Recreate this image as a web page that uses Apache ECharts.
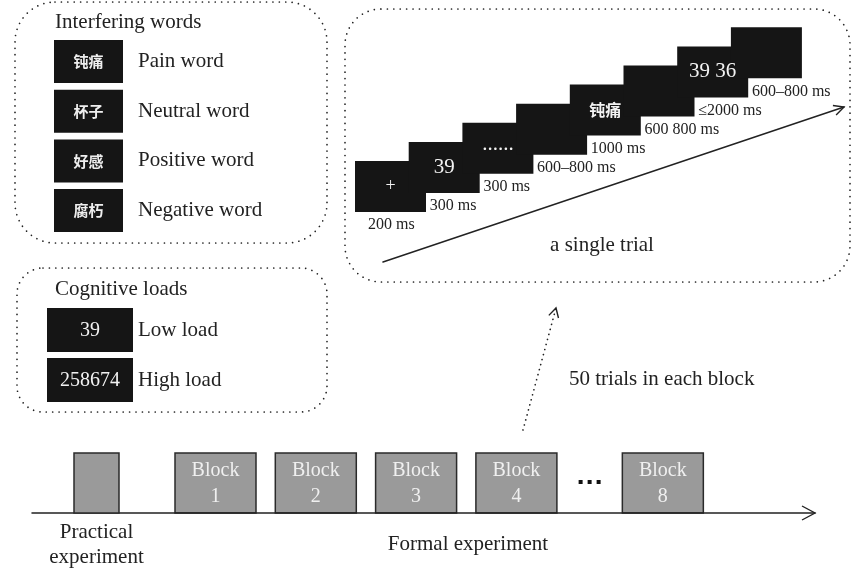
<!DOCTYPE html>
<html lang="en">
<head>
<meta charset="UTF-8">
<title>Experimental procedure</title>
<script src="https://cdn.jsdelivr.net/npm/echarts@6/dist/echarts.min.js"></script>
<style>
    html, body { margin: 0; padding: 0; background: #fff; }
    #main { width: 852px; height: 574px; }
</style>
</head>
<body>
<div id="main"></div>
<script>
    // what the figure says
    var frameTitles = ['Interfering words', 'Cognitive loads', 'a single trial'];
    var wordSamples = ['钝痛', '杯子', '好感', '腐朽'];
    var wordTypes = ['Pain word', 'Neutral word', 'Positive word', 'Negative word'];
    var loadSamples = ['39', '258674'];
    var loadTypes = ['Low load', 'High load'];
    var trialScreens = ['+', '39', '......', '', '钝痛', '', '39 36', ''];
    var trialDurations = ['200 ms', '300 ms', '300 ms', '600–800 ms', '1000 ms', '600 800 ms', '≤2000 ms', '600–800 ms'];
    var blockNumbers = [1, 2, 3, 4, 8];
    var trialsPerBlock = 50;

    // look
    var SERIF = '"Liberation Serif", "Times New Roman", serif';
    var CJK = '"Noto Sans CJK SC", sans-serif';
    var INK = '#222';
    var SCREEN = '#151515';
    var GRAY = '#9a9a9a';

    // layout, in page units of the hidden axes
    var frames = [
        {x: 15, y: 2, w: 312, h: 241, r: 40, tx: 55, ty: 22, align: 'left'},
        {x: 17, y: 268, w: 310, h: 144, r: 26, tx: 55, ty: 289, align: 'left'},
        {x: 345, y: 9, w: 505, h: 273, r: 36, tx: 602, ty: 245, align: 'center'}
    ];
    var word = {x: 54, y: 40, w: 69, h: 43, step: 49.7, labelX: 138};
    var load = {x: 47, y: 308, w: 86, h: 44, step: 50, labelX: 138};
    var trial = {x: 355, y: 161, w: 71, h: 51, dx: 53.7, dy: -19.1};
    var line = {x0: 32, x1: 815, y: 513, boxTop: 453, practX: 74, practW: 45,
                blockX: 175, blockW: 81, step: 100.3, skip: 0.46};

    function txt(x, y, s, font, fill, align, valign) {
        return {type: 'text', x: x, y: y, style: {
            text: s, font: font, fill: fill || INK,
            textAlign: align || 'left', textVerticalAlign: valign || 'middle'
        }};
    }

    function head(tip, from, len, half) {
        var dx = tip[0] - from[0], dy = tip[1] - from[1];
        var d = Math.sqrt(dx * dx + dy * dy);
        var ux = dx / d, uy = dy / d;
        var bx = tip[0] - ux * len, by = tip[1] - uy * len;
        return [[bx - uy * half, by + ux * half], tip, [bx + uy * half, by - ux * half]];
    }

    function arrow(api, a, b, dotted, len, half) {
        var p = api.coord(a), q = api.coord(b);
        return [
            {type: 'line', shape: {x1: p[0], y1: p[1], x2: q[0], y2: q[1]},
             style: {stroke: INK, lineWidth: dotted ? 1.7 : 1.5, lineDash: dotted ? [0.01, 5.2] : null, lineCap: 'round'}},
            {type: 'polyline', shape: {points: head(q, p, len, half)},
             style: {stroke: INK, lineWidth: 1.4, fill: null}}
        ];
    }

    function box(api, x, y, w, h) {
        var p = api.coord([x, y]), q = api.coord([x + w, y + h]);
        return {x: p[0], y: p[1], width: q[0] - p[0], height: q[1] - p[1]};
    }

    function renderFrame(params, api) {
        var f = frames[params.dataIndex];
        var s = box(api, f.x, f.y, f.w, f.h);
        s.r = f.r;
        var t = api.coord([f.tx, f.ty]);
        return {type: 'group', children: [
            {type: 'rect', shape: s, style: {fill: null, stroke: '#222', lineWidth: 1.7, lineDash: [0.01, 6.4], lineCap: 'round'}},
            txt(t[0], t[1], frameTitles[params.dataIndex], '21px ' + SERIF, INK, f.align)
        ]};
    }

    function renderWord(params, api) {
        var i = params.dataIndex;
        var y = word.y + i * word.step;
        var s = box(api, word.x, y, word.w, word.h);
        var c = api.coord([word.x + word.w / 2, y + word.h / 2]);
        var l = api.coord([word.labelX, y + word.h / 2]);
        return {type: 'group', children: [
            {type: 'rect', shape: s, style: {fill: SCREEN}},
            txt(c[0], c[1], wordSamples[i], 'bold 15px ' + CJK, '#eee', 'center'),
            txt(l[0], l[1], wordTypes[i], '21px ' + SERIF)
        ]};
    }

    function renderLoad(params, api) {
        var i = params.dataIndex;
        var y = load.y + i * load.step;
        var s = box(api, load.x, y, load.w, load.h);
        var c = api.coord([load.x + load.w / 2, y + load.h / 2]);
        var l = api.coord([load.labelX, y + load.h / 2]);
        return {type: 'group', children: [
            {type: 'rect', shape: s, style: {fill: SCREEN}},
            txt(c[0], c[1] + 1, loadSamples[i], '20px ' + SERIF, '#f2f2f2', 'center'),
            txt(l[0], l[1], loadTypes[i], '21px ' + SERIF)
        ]};
    }

    function trialPos(i) {
        return [trial.x + i * trial.dx, trial.y + i * trial.dy];
    }

    // screens first, their texts in a later series so nothing gets covered
    function renderScreen(params, api) {
        var p = trialPos(params.dataIndex);
        return {type: 'rect', shape: box(api, p[0], p[1], trial.w, trial.h), style: {fill: SCREEN}};
    }

    function renderTrialText(params, api) {
        var i = params.dataIndex;
        var p = trialPos(i);
        var c = api.coord([p[0] + trial.w / 2, p[1] + trial.h / 2]);
        var l = api.coord([p[0] + (i ? 21 : 13), p[1] + trial.h + 13]);
        var kids = [];
        var t = trialScreens[i];
        if (t) {
            var font = /[\u4e00-\u9fff]/.test(t) ? 'bold 16px ' + CJK
                : (t === '+' ? '18px ' : '21px ') + SERIF;
            kids.push(txt(c[0], c[1] + (t === '......' ? -4 : 0), t, font, '#f2f2f2', 'center'));
        }
        kids.push(txt(l[0], l[1], trialDurations[i], '16px ' + SERIF));
        return {type: 'group', children: kids};
    }

    function blockLeft(i) {
        return line.blockX + (i + (i >= 4 ? line.skip : 0)) * line.step;
    }

    function renderBlock(params, api) {
        var i = params.dataIndex;
        var x = blockLeft(i);
        var s = box(api, x, line.boxTop, line.blockW, line.y - line.boxTop);
        var c = api.coord([x + line.blockW / 2, line.boxTop + 18]);
        var n = api.coord([x + line.blockW / 2, line.boxTop + 44]);
        return {type: 'group', children: [
            {type: 'rect', shape: s, style: {fill: GRAY, stroke: '#2a2a2a', lineWidth: 1.5}},
            txt(c[0], c[1], 'Block', '20px ' + SERIF, '#f0f0f0', 'center'),
            txt(n[0], n[1], String(blockNumbers[i]), '20px ' + SERIF, '#f0f0f0', 'center')
        ]};
    }

    function renderStatic(params, api) {
        var kids = [];
        // time line of the session
        kids = kids.concat(arrow(api, [line.x0, line.y], [line.x1, line.y], false, 13, 7));
        var ps = box(api, line.practX, line.boxTop, line.practW, line.y - line.boxTop);
        kids.push({type: 'rect', shape: ps, style: {fill: GRAY, stroke: '#2a2a2a', lineWidth: 1.5}});
        var gapMid = (blockLeft(3) + line.blockW + blockLeft(4)) / 2;
        for (var k = -1; k <= 1; k++) {
            kids.push({type: 'rect', shape: box(api, gapMid - 2 + k * 9, 480, 4, 4), style: {fill: '#111'}});
        }
        var pr = api.coord([line.practX + line.practW / 2, 544.5]);
        kids.push({type: 'text', x: pr[0], y: pr[1], style: {
            text: 'Practical\nexperiment', font: '21px ' + SERIF, fill: INK,
            textAlign: 'center', textVerticalAlign: 'middle', lineHeight: 25}});
        var fe = api.coord([468, 544]);
        kids.push(txt(fe[0], fe[1], 'Formal experiment', '21px ' + SERIF, INK, 'center'));
        // trial arrow and the link up from the blocks
        kids = kids.concat(arrow(api, [383, 262], [844, 107], false, 10, 5));
        kids = kids.concat(arrow(api, [523, 430], [556, 308], true, 9, 5));
        var tb = api.coord([569, 379]);
        kids.push(txt(tb[0], tb[1], trialsPerBlock + ' trials in each block', '21px ' + SERIF));
        return {type: 'group', children: kids};
    }

    function idx(arr) {
        return arr.map(function (v, i) { return [i, 0]; });
    }

    var chart = echarts.init(document.getElementById('main'));
    chart.setOption({
        animation: false,
        backgroundColor: '#fff',
        grid: {left: 0, right: 0, top: 0, bottom: 0},
        xAxis: {type: 'value', min: 0, max: 852, show: false},
        yAxis: {type: 'value', min: 0, max: 574, inverse: true, show: false},
        series: [
            {type: 'custom', name: 'frames', renderItem: renderFrame, data: idx(frameTitles), silent: true},
            {type: 'custom', name: 'words', renderItem: renderWord, data: idx(wordTypes), silent: true},
            {type: 'custom', name: 'loads', renderItem: renderLoad, data: idx(loadTypes), silent: true},
            {type: 'custom', name: 'screens', renderItem: renderScreen, data: idx(trialScreens), silent: true},
            {type: 'custom', name: 'trial text', renderItem: renderTrialText, data: idx(trialDurations), silent: true, z: 3},
            {type: 'custom', name: 'blocks', renderItem: renderBlock, data: idx(blockNumbers), silent: true},
            {type: 'custom', name: 'static', renderItem: renderStatic, data: [[0, 0]], silent: true}
        ]
    });
</script>
</body>
</html>
